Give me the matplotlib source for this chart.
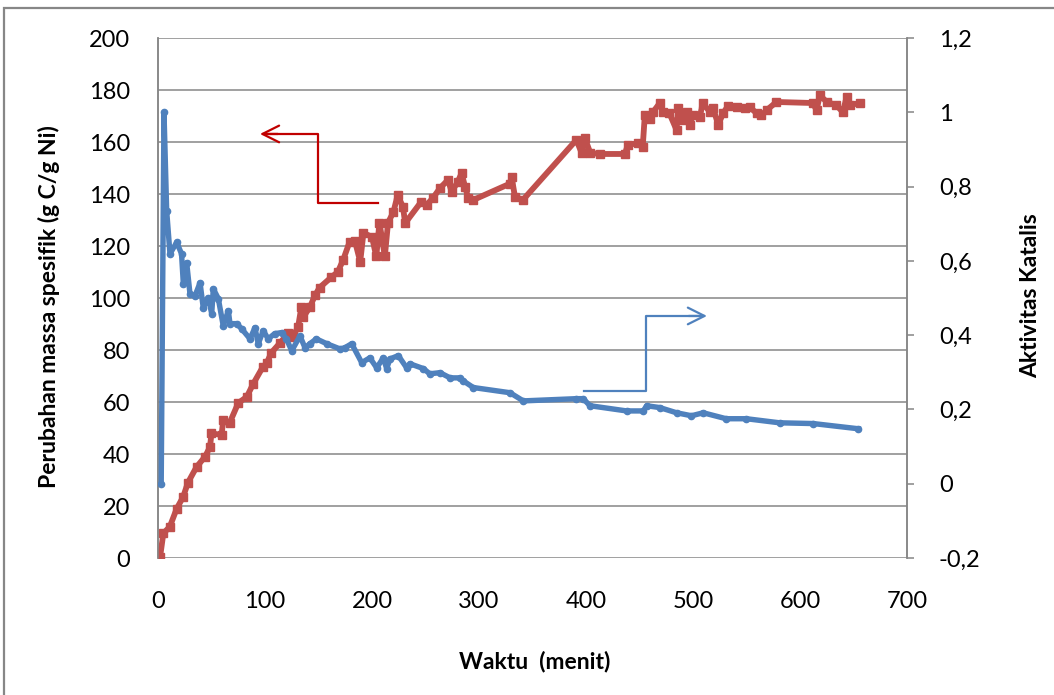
#! /usr/bin/env python3

import matplotlib
matplotlib.use("Agg")
import matplotlib.pyplot as plt
import matplotlib.patches as patches
from matplotlib.ticker import MultipleLocator, FuncFormatter

plt.rcParams['font.family'] = ['Lato', 'DejaVu Sans']

# specific mass change (g C / g Ni) vs time (minutes)
waktu_massa = [2, 5, 11, 17.5, 23.5, 28, 36, 44, 48.6, 50, 59.4, 61, 67, 75,
               83, 89, 98, 101.6, 106, 114, 121.7, 126, 131, 134, 135.8, 142,
               146.7, 151, 162, 168, 173, 179, 184, 189, 192, 200, 204, 207,
               212, 215, 220, 224, 229, 231, 246, 251, 257, 263.6, 271, 274.5,
               280, 283.8, 287, 290, 294.6, 329, 330.5, 333.6, 341, 391, 396,
               399, 404, 413, 436.4, 439, 448.6, 453, 455, 460, 462.6, 469, 472,
               478, 484.7, 486, 491, 494, 497, 500, 506.5, 509, 516, 519, 523.6,
               528, 533, 541, 548.6, 553, 559.5, 564, 569, 578, 612, 615.5,
               618.6, 625, 634, 640, 643.6, 646.7, 656]
massa = [0.5, 9.5, 12, 19, 23.5, 29, 35, 39, 42.7, 48, 47.3, 53, 52, 59.6,
         62, 67, 73.5, 75, 79, 82.7, 86.5, 85, 89, 96.5, 92.7, 96.5,
         101, 104, 108, 110, 114.6, 121.5, 122, 114, 125, 123.5, 116, 129,
         116, 129, 133, 139.6, 135, 128.8, 137, 135.8, 138.5, 142.3, 145.4, 140.8,
         144.6, 148, 142.7, 138.5, 137.7, 144, 146.5, 139, 137.7, 160.8, 155.8,
         161.5, 155.8, 155.4, 155.4, 158.8, 159.6, 158, 170.4, 169, 171.5, 175, 171.5,
         171, 164.6, 173, 168.5, 171.5, 166.5, 170.4, 169.6, 175, 171.5, 173, 166.5,
         171, 174, 173.5, 173, 173.5, 171, 170.4, 172.3, 175.4, 175, 172.3,
         178, 175.4, 174.2, 171.5, 177.3, 174.2, 175]

# catalyst activity vs time (minutes)
waktu_aktivitas = [3, 5.6, 8.1, 11.2, 17.5, 22, 23.7, 26.8, 29.9, 34.6, 39.3,
                   42.3, 47, 50.2, 51.7, 56.4, 61, 65.7, 67.3, 73.5, 78.2, 86,
                   90.6, 93.7, 98.4, 103, 109, 115.6, 120, 125, 132.7, 137.4,
                   142, 148, 157.7, 170, 174.6, 181, 190.4, 198, 204.4, 210.6,
                   213.7, 216.8, 224.6, 232.4, 235.5, 248, 254, 263.6, 273, 282,
                   285.3, 294.7, 329, 341.4, 391, 397.4, 403.7, 438, 453.6,
                   456.7, 469, 484.7, 498.6, 509.6, 531, 550, 581, 612.4, 654.5]
aktivitas = [0.0, 1.0, 0.735, 0.619, 0.65, 0.619, 0.538, 0.595, 0.511, 0.506, 0.541,
             0.474, 0.501, 0.458, 0.525, 0.498, 0.425, 0.466, 0.431, 0.431, 0.417, 0.39,
             0.42, 0.377, 0.412, 0.39, 0.404, 0.407, 0.39, 0.358, 0.398, 0.366,
             0.377, 0.39, 0.377, 0.363, 0.366, 0.377, 0.326, 0.339, 0.312, 0.339,
             0.31, 0.336, 0.345, 0.312, 0.323, 0.31, 0.296, 0.299, 0.285, 0.285,
             0.277, 0.259, 0.245, 0.223, 0.229, 0.229, 0.21, 0.196, 0.196,
             0.21, 0.205, 0.191, 0.183, 0.191, 0.175, 0.175, 0.164, 0.162, 0.148]

MERAH = '#C0504D'
BIRU = '#4F81BD'
ABU = '#868686'

fig = plt.figure(figsize=(10.54, 6.95), dpi=100)
ax = fig.add_axes([0.1499, 0.1971, 0.7106, 0.7482])
ax2 = ax.twinx()

ax.plot(waktu_massa, massa, color=MERAH, lw=4.2, marker='s', ms=5.5,
        solid_joinstyle='round', zorder=3)
ax2.plot(waktu_aktivitas, aktivitas, color=BIRU, lw=3.9, marker='o', ms=4.5,
         solid_joinstyle='round', zorder=3)

ax.set_xlim(0, 700)
ax.set_ylim(0, 200)
ax2.set_ylim(-0.2, 1.2)
ax.xaxis.set_major_locator(MultipleLocator(100))
ax.yaxis.set_major_locator(MultipleLocator(20))
ax2.yaxis.set_major_locator(MultipleLocator(0.2))
ax2.yaxis.set_major_formatter(
    FuncFormatter(lambda v, p: f"{round(v, 1):g}".replace('.', ',')))

ax.grid(axis='y', color=ABU, lw=1.1)
ax.set_axisbelow(True)
for a in (ax, ax2):
    a.spines['top'].set_visible(False)
    a.spines['bottom'].set_visible(False)
    a.spines['left'].set_color(ABU)
    a.spines['right'].set_color(ABU)
    a.spines['left'].set_linewidth(1.1)
    a.spines['right'].set_linewidth(1.1)

ax.tick_params(axis='y', length=0, pad=20, labelsize=17)
ax.tick_params(axis='x', length=0, pad=24, labelsize=17)
ax2.tick_params(axis='y', length=5, width=1.1, color=ABU, pad=18, labelsize=17)

ax.set_xlabel('Waktu  (menit)', fontsize=16.5, fontweight='bold')
ax.xaxis.set_label_coords(0.503, -0.179)
ax.set_ylabel('Perubahan massa spesifik (g C/g Ni)', fontsize=16.5,
              fontweight='bold')
ax.yaxis.set_label_coords(-0.131, 0.483)
ax2.set_ylabel('Aktivitas Katalis', fontsize=16.5, fontweight='bold',
               rotation=90)
ax2.yaxis.set_label_coords(1.151, 0.504)

# elbow arrows pointing to the axis each curve belongs to
ax.plot([205.6, 149.5, 149.5, 100], [136.5, 136.5, 163.1, 163.1],
        color='#C00000', lw=1.6, zorder=4)
ax.annotate('', xy=(95.3, 163.1), xytext=(112, 163.1),
            arrowprops=dict(arrowstyle='->,head_length=1.2,head_width=0.6',
                            color='#C00000', lw=1.6, shrinkA=0, shrinkB=0),
            zorder=4)
ax.plot([398.1, 456.1, 456.1, 508], [64.2, 64.2, 93.1, 93.1],
        color=BIRU, lw=1.6, zorder=4)
ax.annotate('', xy=(513.1, 93.1), xytext=(496, 93.1),
            arrowprops=dict(arrowstyle='->,head_length=1.2,head_width=0.6',
                            color=BIRU, lw=1.6, shrinkA=0, shrinkB=0),
            zorder=4)

# chart area frame
fig.add_artist(patches.Rectangle((4 / 1054, -0.1), 1.2, 1.1 - 8 / 695,
                                 transform=fig.transFigure, fill=False,
                                 edgecolor='#878787', lw=1.6))

plt.savefig("out.png")
